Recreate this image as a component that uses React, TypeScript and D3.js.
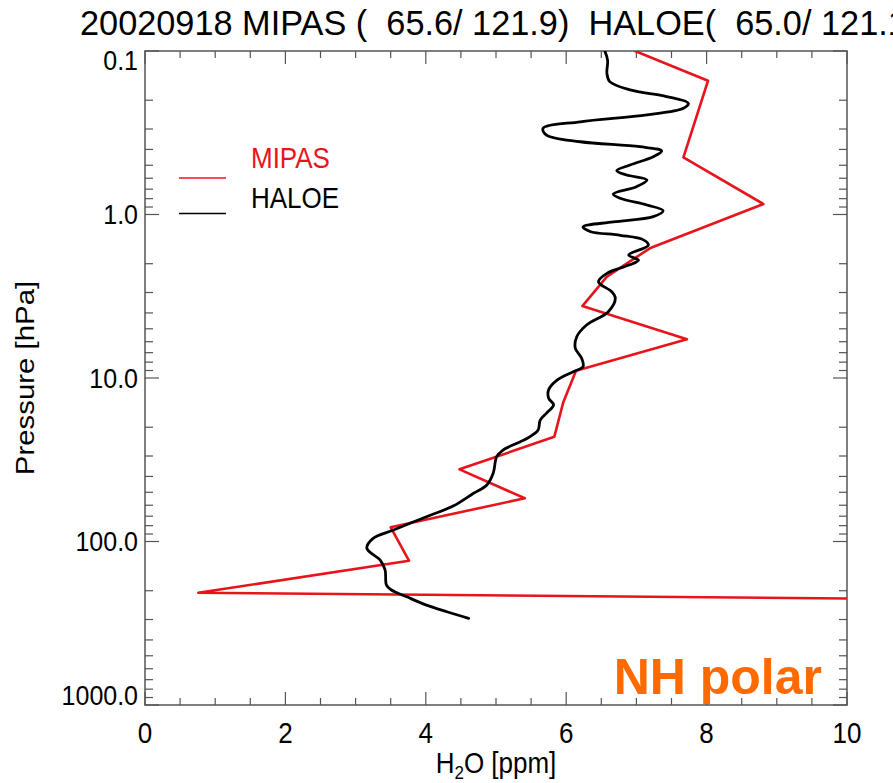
import React from "react";
import * as d3 from "d3";

// MIPAS and HALOE water-vapour profiles, 2002-09-18, NH polar
const mipasH2O = [6.98, 8.02, 7.67, 8.81, 7.19, 6.58, 6.23, 7.72, 6.14, 5.96, 5.83, 4.48, 5.41, 3.5, 3.76, 0.76, 10.0];
const mipasPressure = [0.1, 0.152, 0.447, 0.863, 1.61, 2.4, 3.63, 5.8, 9.02, 14.0, 22.9, 36.2, 54.4, 81.9, 131, 206, 223];

const haloeH2O = [
  6.55, 6.59, 6.58, 6.62, 6.91, 7.43, 7.74, 7.67, 7.15, 6.2,
  5.67, 5.72, 6.2, 7.05, 7.36, 7.24, 6.91, 6.72, 6.86, 7.15,
  7.0, 6.67, 6.77, 7.15, 7.38, 7.24, 6.67, 6.24, 6.34, 6.77,
  7.1, 7.17, 6.89, 7.03, 6.96, 6.58, 6.46, 6.65, 6.7, 6.6,
  6.29, 6.15, 6.13, 6.22, 6.24, 6.1, 5.87, 5.75, 5.75, 5.82,
  5.72, 5.63, 5.6, 5.48, 5.34, 5.1, 5.01, 4.96, 4.87, 4.68,
  4.39, 4.01, 3.54, 3.25, 3.16, 3.35, 3.42, 3.44, 3.51, 3.73,
  4.01, 4.3, 4.61,
];
const haloePressure = [
  0.1, 0.114, 0.137, 0.154, 0.173, 0.19, 0.209, 0.224, 0.246, 0.271,
  0.297, 0.327, 0.359, 0.385, 0.409, 0.443, 0.498, 0.54, 0.573, 0.615,
  0.676, 0.749, 0.796, 0.875, 0.948, 1.03, 1.11, 1.19, 1.27, 1.34,
  1.43, 1.54, 1.77, 1.9, 1.99, 2.29, 2.58, 2.97, 3.25, 3.93,
  4.74, 5.59, 6.58, 7.58, 8.53, 9.15, 10.3, 11.8, 13.3, 14.6,
  16.4, 18.1, 20.8, 22.9, 24.6, 27.6, 30.3, 38.3, 45.1, 50.7,
  60.7, 70.5, 85.1, 95.6, 110, 130, 149, 185, 198, 218,
  245, 269, 295,
];

const xTickValues = [0, 2, 4, 6, 8, 10];
const xTickLabels = ["0", "2", "4", "6", "8", "10"];
const yTickValues = [0.1, 1, 10, 100, 1000];
const yTickLabels = ["0.1", "1.0", "10.0", "100.0", "1000.0"];

const titleText = "20020918 MIPAS (  65.6/ 121.9)  HALOE(  65.0/ 121.1)";
const regionLabel = "NH polar";

const W = 893;
const H = 783;
const left = 145;
const right = 847;
const top = 51;
const bottom = 705;

const FONT = "'Liberation Sans', Arial, Helvetica, sans-serif";
const SY = 1.13; // vertical stretch of the plot lettering
const AXIS = "#555";
const RED = "#e8141c";

export default function App() {
  const x = d3.scaleLinear().domain([0, 10]).range([left, right]);
  const y = d3.scaleLog().domain([0.1, 1000]).range([top, bottom]);

  const haloe = haloeH2O.map((v, i) => [v, haloePressure[i]] as [number, number]);
  const mipas = mipasH2O.map((v, i) => [v, mipasPressure[i]] as [number, number]);

  const smooth = d3
    .line<[number, number]>()
    .x((d) => x(d[0]))
    .y((d) => y(d[1]))
    .curve(d3.curveCatmullRom.alpha(0.5));
  const straight = d3
    .line<[number, number]>()
    .x((d) => x(d[0]))
    .y((d) => y(d[1]));

  // minor ticks
  const xMinor = d3.range(0, 10.001, 0.5);
  const yMinor: number[] = [];
  for (let e = -1; e <= 3; e++) {
    for (let k = 1; k <= 9; k++) {
      const v = k * Math.pow(10, e);
      if (v <= 1000 + 1e-9) yMinor.push(v);
    }
  }
  const isMajorX = (v: number) => Math.abs(v / 2 - Math.round(v / 2)) < 1e-6;
  const isMajorY = (v: number) => Math.abs(Math.log10(v) - Math.round(Math.log10(v))) < 1e-6;

  const txt = (tx: number, ty: number, extra = "") => `translate(${tx},${ty}) scale(1,${SY})${extra}`;

  return (
    <svg
      width={W}
      height={H}
      style={{ position: "absolute", left: 0, top: 0, background: "#fff" }}
      fontFamily={FONT}
    >
      <rect x={0} y={0} width={W} height={H} fill="#fff" />
      <defs>
        <clipPath id="plot-area">
          <rect x={left} y={top} width={right - left} height={bottom - top} />
        </clipPath>
      </defs>

      {/* title */}
      <text
        transform={`translate(80,35) scale(1,1.0)`}
        fontSize={34.3}
        fill="#000"
        style={{ whiteSpace: "pre" }}
      >
        {titleText}
      </text>

      {/* frame */}
      <rect
        x={left}
        y={top}
        width={right - left}
        height={bottom - top}
        fill="none"
        stroke={AXIS}
        strokeWidth={1.5}
      />

      {/* x ticks, bottom and top */}
      {xMinor.map((v) => {
        const len = isMajorX(v) ? 13 : 7;
        const px = x(v);
        return (
          <g key={"xt" + v} stroke={AXIS} strokeWidth={1.2}>
            <line x1={px} x2={px} y1={bottom} y2={bottom - len} />
            <line x1={px} x2={px} y1={top} y2={top + len} />
          </g>
        );
      })}

      {/* y ticks, left and right */}
      {yMinor.map((v) => {
        const len = isMajorY(v) ? 14 : 8;
        const py = y(v);
        return (
          <g key={"yt" + v} stroke={AXIS} strokeWidth={1.2}>
            <line x1={left} x2={left + len} y1={py} y2={py} />
            <line x1={right} x2={right - len} y1={py} y2={py} />
          </g>
        );
      })}

      {/* x tick labels */}
      {xTickValues.map((v, i) => (
        <text
          key={"xl" + v}
          transform={txt(x(v), 743)}
          textAnchor="middle"
          fontSize={26}
          fill="#000"
        >
          {xTickLabels[i]}
        </text>
      ))}

      {/* y tick labels */}
      {yTickValues.map((v, i) => {
        const half = 9.5;
        const cy = Math.min(Math.max(y(v), top + half), bottom - half);
        return (
          <text
            key={"yl" + v}
            transform={txt(138, cy + half)}
            textAnchor="end"
            fontSize={25}
            fill="#000"
          >
            {yTickLabels[i]}
          </text>
        );
      })}

      {/* axis titles */}
      <text transform={txt((left + right) / 2, 773)} textAnchor="middle" fontSize={26} fill="#000">
        H
        <tspan fontSize={17} dy={5}>
          2
        </tspan>
        <tspan dy={-5}>O [ppm]</tspan>
      </text>
      <text
        transform={`translate(34,378) scale(1,${SY}) rotate(-90)`}
        textAnchor="middle"
        fontSize={26}
        fill="#000"
      >
        Pressure [hPa]
      </text>

      {/* profiles */}
      <g clipPath="url(#plot-area)" fill="none" strokeLinejoin="round" strokeLinecap="round">
        <path d={straight(mipas) ?? ""} stroke={RED} strokeWidth={2.6} />
        <path d={smooth(haloe) ?? ""} stroke="#000" strokeWidth={2.8} />
      </g>

      {/* legend */}
      <line x1={179} x2={226} y1={178} y2={178} stroke={RED} strokeWidth={1.5} />
      <text transform={txt(251, 168)} fontSize={26} fill={RED}>
        MIPAS
      </text>
      <line x1={179} x2={226} y1={213.5} y2={213.5} stroke="#000" strokeWidth={1.5} />
      <text transform={txt(251, 208)} fontSize={26} fill="#000">
        HALOE
      </text>

      {/* region label */}
      <text x={822} y={694} textAnchor="end" fontSize={50} fontWeight="bold" fill="#ff6a00">
        {regionLabel}
      </text>
    </svg>
  );
}
